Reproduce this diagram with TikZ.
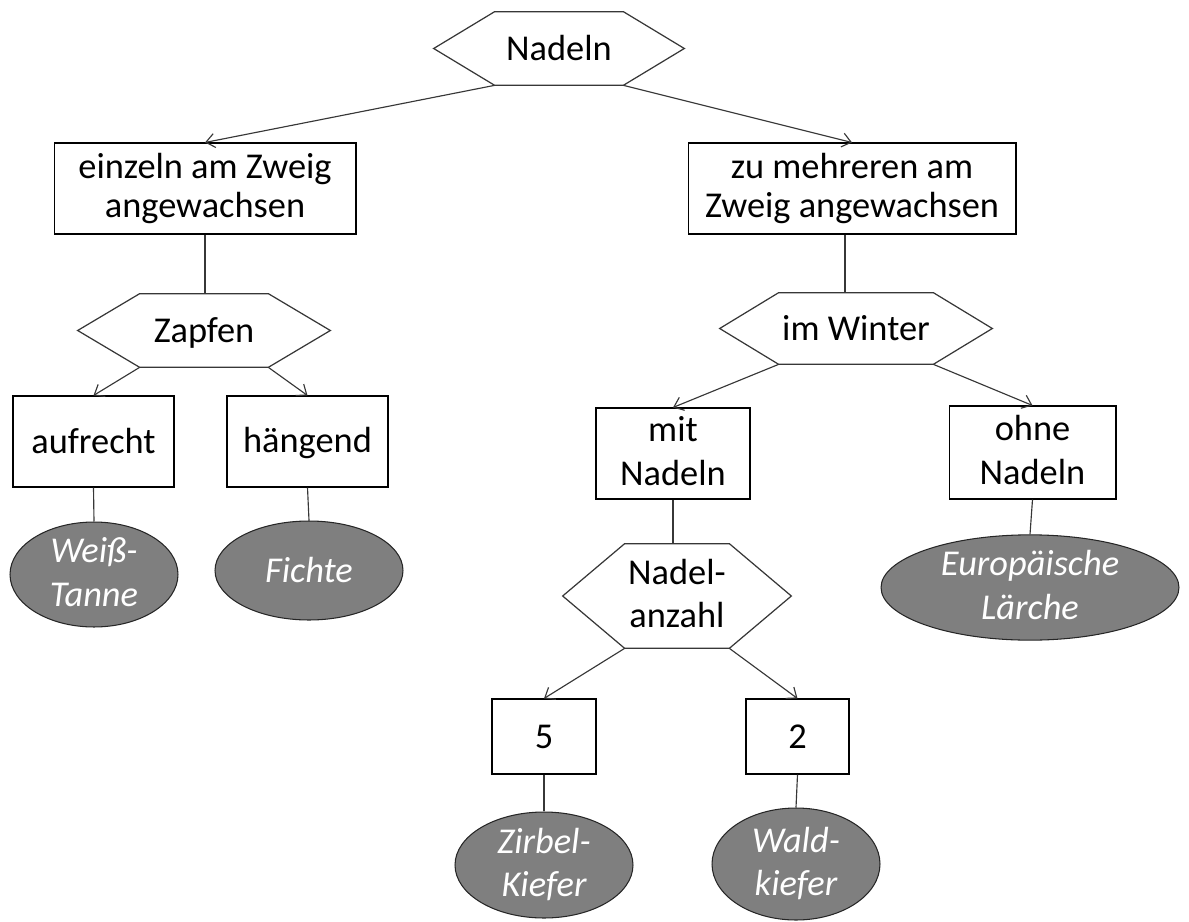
\documentclass[tikz,border=0pt]{standalone}
\usepackage{fontspec}
\setmainfont{Carlito}
\usetikzlibrary{shapes, arrows.meta}
\definecolor{LeafGray}{RGB}{127, 127, 127}
\definecolor{LineGray}{RGB}{55, 55, 55}

% hexagon round a (text) node: #1 = node, #2 = depth of the points
\newcommand{\hexframe}[2]{%
  \draw[hexline] (#1.north west) -- ([xshift=-#2]#1.west) -- (#1.south west)
    -- (#1.south east) -- ([xshift=#2]#1.east) -- (#1.north east) -- cycle;}
\newcommand{\tstrut}{\rule[-3pt]{0pt}{19.6pt}}

\begin{document}
\begin{tikzpicture}[x=0.02cm, y=-0.02cm, font=\fontsize{20.7}{25}\selectfont,
    box/.style={draw, inner sep=0pt, align=center, line width=0.6pt,
      execute at begin node=\tstrut, execute at end node=\tstrut},
    hexbody/.style={inner sep=0pt, align=center,
      execute at begin node=\tstrut, execute at end node=\tstrut},
    hexline/.style={draw=LineGray, line width=0.7pt},
    leaf/.style={ellipse, draw=black!85, fill=LeafGray, text=white, inner sep=0pt,
      align=center, line width=0.6pt, font=\fontsize{20.7}{25}\selectfont\itshape,
      execute at begin node=\tstrut, execute at end node=\tstrut},
    tight/.style={font=\fontsize{20.7}{22.2}\selectfont},
    arr/.style={-{Straight Barb[length=5pt, width=8pt]}, LineGray, line width=0.65pt},
    link/.style={LineGray, line width=0.65pt}]
    \useasboundingbox (0,0) rectangle (1189,922);

    % Root
    \node[hexbody, minimum width=2.56cm, minimum height=1.46cm] (nadeln) at (559,48.5) {Nadeln};
    \hexframe{nadeln}{1.22cm}

    % First split
    \node[box, tight, minimum width=6.04cm, minimum height=1.82cm] (einzeln) at (205,188.5) {einzeln am Zweig\\angewachsen};
    \node[box, tight, minimum width=6.56cm, minimum height=1.82cm] (mehrere) at (852,188.5) {zu mehreren am\\Zweig angewachsen};

    % Left branch: Zapfen
    \node[hexbody, minimum width=2.56cm, minimum height=1.46cm] (zapfen) at (204,330.5) {Zapfen};
    \hexframe{zapfen}{1.24cm}
    \node[box, minimum width=3.22cm, minimum height=1.82cm] (aufrecht) at (93.5,441.5) {aufrecht};
    \node[box, minimum width=3.22cm, minimum height=1.82cm] (haengend) at (307.5,441.5) {hängend};
    \node[leaf, minimum width=3.36cm, minimum height=1.98cm] (weiss) at (94,574.5) {Weiß-\\Tanne};
    \node[leaf, minimum width=3.76cm, minimum height=1.98cm] (fichte) at (309,570.5) {Fichte};

    % Right branch: im Winter
    \node[hexbody, minimum width=3.08cm, minimum height=1.42cm] (winter) at (856,328.5) {im Winter};
    \hexframe{winter}{1.18cm}
    \node[box, minimum width=3.08cm, minimum height=1.82cm] (mit) at (673,453.5) {mit\\Nadeln};
    \node[box, minimum width=3.34cm, minimum height=1.86cm] (ohne) at (1032.5,452.5) {ohne\\Nadeln};
    \node[leaf, minimum width=5.96cm, minimum height=2.02cm] (laerche) at (1030,587.5) {Europäische\\Lärche};

    % Nadelanzahl
    \node[hexbody, minimum width=2.08cm, minimum height=2.08cm] (anzahl) at (677,596) {Nadel-\\anzahl};
    \hexframe{anzahl}{1.24cm}
    \node[box, minimum width=2.08cm, minimum height=1.5cm] (fuenf) at (544,736.5) {5};
    \node[box, minimum width=2.06cm, minimum height=1.5cm] (zwei) at (797.5,736.5) {2};
    \node[leaf, minimum width=3.56cm, minimum height=2.12cm] (zirbel) at (544,865) {Zirbel-\\Kiefer};
    \node[leaf, minimum width=3.36cm, minimum height=2.24cm] (wald) at (796,864) {Wald-\\kiefer};

    % Connectors
    \draw[arr] (nadeln.south west) -- (einzeln.north);
    \draw[arr] (nadeln.south east) -- (mehrere.north);
    \draw[link] (einzeln.south) -- (einzeln.south |- zapfen.north);
    \draw[link] ([xshift=-4]mehrere.south) -- ([xshift=-4]mehrere.south |- winter.north);
    \draw[arr] (zapfen.south west) -- (aufrecht.north);
    \draw[arr] (zapfen.south east) -- (haengend.north);
    \draw[link] (aufrecht.south) -- (weiss.north);
    \draw[link] (haengend.south) -- (fichte.north);
    \draw[arr] (winter.south west) -- (mit.north);
    \draw[arr] (winter.south east) -- (ohne.north);
    \draw[link] (mit.south) -- (mit.south |- anzahl.north);
    \draw[link] (ohne.south) -- (laerche.north);
    \draw[arr] (anzahl.south west) -- (fuenf.north);
    \draw[arr] (anzahl.south east) -- (zwei.north);
    \draw[link] (fuenf.south) -- (zirbel.north);
    \draw[link] (zwei.south) -- (wald.north);
\end{tikzpicture}
\end{document}
